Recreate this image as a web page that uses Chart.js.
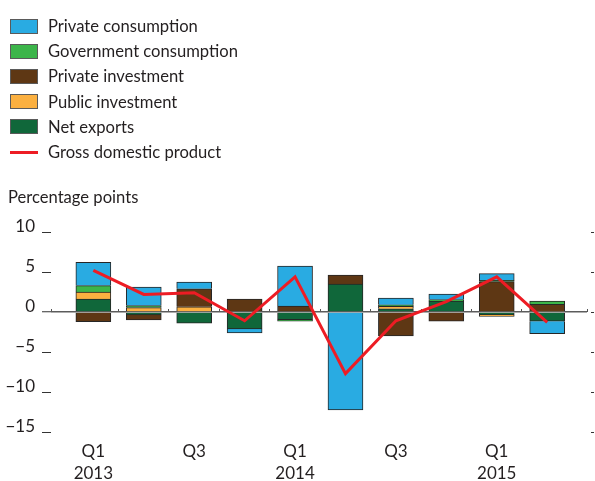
<!DOCTYPE html>
<html>
<head>
<meta charset="utf-8">
<script src="https://cdn.jsdelivr.net/npm/chart.js@4.4.1/dist/chart.umd.min.js"></script>
<style>
html,body{margin:0;padding:0;background:#fff;}
#wrap{position:relative;width:595px;height:481px;overflow:hidden;font-family:Lato,sans-serif;color:#231f20;}
canvas{position:absolute;left:0;top:0;}
#legend{position:absolute;left:10px;top:13.5px;}
.row{height:25.2px;display:flex;align-items:center;font-size:16.6px;white-space:nowrap;}
.sw{box-sizing:border-box;width:28px;height:15px;border:1px solid #5a5a5a;margin-right:10px;}
.ln{width:28px;height:3px;margin-right:10px;}
#ytitle{position:absolute;left:8px;top:187px;font-size:16.6px;line-height:20px;}
</style>
</head>
<body>
<div id="wrap">
<canvas id="c" width="595" height="481"></canvas>
<div id="legend"></div>
<div id="ytitle">Percentage points</div>
</div>
<script>
// Quarters Q1 2013 .. Q2 2015 (index positions 0..9)
const quarters = ['Q1 2013','Q2 2013','Q3 2013','Q4 2013','Q1 2014','Q2 2014','Q3 2014','Q4 2014','Q1 2015','Q2 2015'];
const xTickPositions = [0, 2, 4, 6, 8];
const xTickLabels = [['Q1','2013'], ['Q3'], ['Q1','2014'], ['Q3'], ['Q1','2015']];
const yTicks = [-15, -10, -5, 0, 5, 10];

const privateConsumption    = [2.9, 2.3, 0.85, -0.5, 5.0, -12.25, 0.85, 0.7, 0.85, -1.55];
const governmentConsumption = [0.8, 0.25, 0, 0, -0.2, 0, 0.2, 0.2, 0.15, 0.4];
const privateInvestment     = [-1.2, -0.65, 2.25, 1.6, 0.75, 1.1, -3.0, -1.15, 3.8, 0.85];
const publicInvestment      = [0.9, 0.55, 0.65, 0, 0, 0, 0.3, 0, -0.2, 0.12];
const netExports            = [1.6, -0.35, -1.4, -2.1, -0.95, 3.5, 0.4, 1.35, -0.35, -1.15];
const gdp                   = [5.2, 2.2, 2.4, -1.1, 4.4, -7.7, -1.1, 1.3, 4.4, -1.3];

const toPts = arr => arr.map((v, i) => ({x: i, y: v}));

// legend order; "order" sets stacking from zero outward
const barSeries = [
  {label:'Private consumption',    data: privateConsumption,    color:'#29abe2', order:5},
  {label:'Government consumption', data: governmentConsumption, color:'#3cb54a', order:4},
  {label:'Private investment',     data: privateInvestment,     color:'#5e3714', order:3},
  {label:'Public investment',      data: publicInvestment,      color:'#fbb040', order:2},
  {label:'Net exports',            data: netExports,            color:'#10673a', order:1}
];
const lineSeries = {label:'Gross domestic product', data: gdp, color:'#ed1c24'};

const datasets = barSeries.map(s => ({
  type:'bar', label:s.label, data: toPts(s.data), backgroundColor:s.color,
  borderColor:'#262626', borderWidth:1, order:s.order, barThickness:35
}));
datasets.push({
  type:'line', label:lineSeries.label, data: toPts(lineSeries.data),
  borderColor:lineSeries.color, borderWidth:3, pointRadius:0, tension:0,
  fill:false, order:0, stack:'gdp'
});

// HTML legend
const lg = document.getElementById('legend');
barSeries.forEach(s => {
  const r = document.createElement('div'); r.className='row';
  const b = document.createElement('div'); b.className='sw'; b.style.background=s.color;
  r.appendChild(b); r.appendChild(document.createTextNode(s.label)); lg.appendChild(r);
});
{
  const r = document.createElement('div'); r.className='row';
  const b = document.createElement('div'); b.className='ln'; b.style.background=lineSeries.color;
  r.appendChild(b); r.appendChild(document.createTextNode(lineSeries.label)); lg.appendChild(r);
}

const font = {family:'Lato', size:17};
const xMin = -0.84, xMax = 9.79;

new Chart(document.getElementById('c'), {
  data: {datasets},
  options: {
    responsive:false, animation:false,
    layout:{padding:{top:232, left:0, right:0, bottom:0}},
    plugins:{legend:{display:false}, tooltip:{enabled:false}, title:{display:false}},
    scales:{
      x:{
        type:'linear', position:'bottom', min:xMin, max:xMax, stacked:true, offset:false,
        afterBuildTicks: s => {
          const t = [{value:xMin}];
          for (let i = 0; i < quarters.length; i++) {
            t.push({value:i});
            if (i < quarters.length - 1) t.push({value:i + 0.5});
          }
          t.push({value:xMax});
          s.ticks = t;
        },
        afterFit: s => { s.height = 49; },
        border:{display:false, dash:[0, 77, 3, 1000]},
        grid:{
          offset:false, drawOnChartArea:true, drawTicks:false, lineWidth:1,
          color: ctx => (ctx.tick && Number.isInteger(ctx.tick.value)) ? 'rgba(0,0,0,0)' : '#555'
        },
        ticks:{
          autoSkip:false, maxRotation:0, minRotation:0, padding:8, color:'#231f20',
          font:{family:'Lato', size:17, lineHeight:1.3},
          callback: v => { const k = xTickPositions.indexOf(v); return k >= 0 ? xTickLabels[k] : ''; }
        }
      },
      y:{
        type:'linear', position:'left', min:-15, max:10, stacked:true,
        afterBuildTicks: s => { s.ticks = yTicks.map(v => ({value:v})); },
        afterFit: s => { s.width = 51; },
        border:{display:false},
        grid:{
          drawOnChartArea:true, drawTicks:true, tickLength:13, tickColor:'#333', tickWidth:1,
          tickBorderDash:[9, 4], tickBorderDashOffset:9,
          color: ctx => (ctx.tick && ctx.tick.value === 0) ? '#5c5c5c' : 'rgba(0,0,0,0)',
          lineWidth: ctx => (ctx.tick && ctx.tick.value === 0) ? 1.5 : 1
        },
        ticks:{
          padding:3, labelOffset:-5, color:'#231f20', font,
          callback: v => v < 0 ? '\u2212' + Math.abs(v) : String(v)
        }
      },
      y2:{
        type:'linear', position:'right', min:-15, max:10,
        afterBuildTicks: s => { s.ticks = yTicks.map(v => ({value:v})); },
        afterFit: s => { s.width = 7; },
        border:{display:false},
        grid:{
          drawOnChartArea:false, drawTicks:true, tickLength:7, tickColor:'#333', tickWidth:1,
          tickBorderDash:[3, 4], tickBorderDashOffset:3
        },
        ticks:{display:false}
      }
    }
  }
});
</script>
</body>
</html>
